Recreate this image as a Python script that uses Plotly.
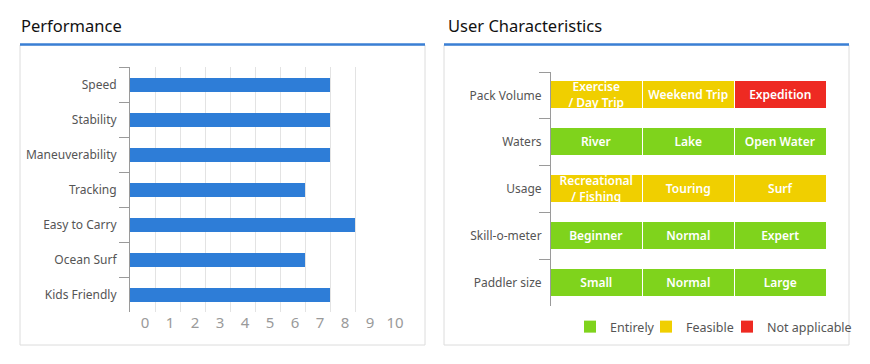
import plotly.graph_objects as go

W, H = 870, 364

# ---------------- data ----------------
perf_categories = ["Speed", "Stability", "Maneuverability", "Tracking",
                   "Easy to Carry", "Ocean Surf", "Kids Friendly"]
perf_values = [8, 8, 8, 7, 9, 7, 8]
perf_ticks = [0, 1, 2, 3, 4, 5, 6, 7, 8, 9, 10]

user_rows = ["Pack Volume", "Waters", "Usage", "Skill-o-meter", "Paddler size"]
user_col1 = ["Exercise<br>/ Day Trip", "River", "Recreational<br>/ Fishing", "Beginner", "Small"]
user_col2 = ["Weekend Trip", "Lake", "Touring", "Normal", "Normal"]
user_col3 = ["Expedition", "Open Water", "Surf", "Expert", "Large"]
status_col1 = ["Feasible", "Entirely", "Feasible", "Entirely", "Entirely"]
status_col2 = ["Feasible", "Entirely", "Feasible", "Entirely", "Entirely"]
status_col3 = ["Not applicable", "Entirely", "Feasible", "Entirely", "Entirely"]
legend_names = ["Entirely", "Feasible", "Not applicable"]
status_colors = {"Entirely": "#7fd31c", "Feasible": "#f0cf00", "Not applicable": "#ee2a22"}

FONT = "Noto Sans"
BLUE = "#2e7dd7"

def px_x(x):
    return x / W

def px_y(y):
    return 1 - y / H

fig = go.Figure()

# ---------------- left: performance bars ----------------
fig.add_trace(go.Bar(
    x=perf_values, y=perf_categories, orientation="h",
    marker=dict(color=BLUE, line=dict(width=0)), width=0.4,
    xaxis="x", yaxis="y", showlegend=False, hoverinfo="x+y",
))

# ---------------- right: user characteristics grid ----------------
for labels, status in [(user_col1, status_col1), (user_col2, status_col2), (user_col3, status_col3)]:
    fig.add_trace(go.Bar(
        x=[1] * len(user_rows), y=user_rows, orientation="h",
        marker=dict(color=[status_colors[s] for s in status], line=dict(color="white", width=1.5)),
        width=0.6, text=labels, textposition="inside", insidetextanchor="middle",
        textangle=0, constraintext="none",
        insidetextfont=dict(color="white", size=12, family=FONT, weight=600),
        xaxis="x2", yaxis="y2", showlegend=False, hoverinfo="text",
    ))

legend_ids = ["legend", "legend2", "legend3"]
for name, lid in zip(legend_names, legend_ids):
    fig.add_trace(go.Scatter(
        x=[None], y=[None], mode="markers", name=name, legend=lid,
        marker=dict(symbol="square", size=12, color=status_colors[name]),
        xaxis="x2", yaxis="y2", showlegend=True,
    ))

# ---------------- layout ----------------
shapes = []
for x0, x1 in [(20, 425), (444, 849)]:
    shapes.append(dict(type="rect", xref="paper", yref="paper",
                       x0=px_x(x0), x1=px_x(x1), y0=px_y(345), y1=px_y(45),
                       line=dict(color="#dcdcdc", width=1), fillcolor="rgba(0,0,0,0)", layer="below"))
    shapes.append(dict(type="line", xref="paper", yref="paper",
                       x0=px_x(x0), x1=px_x(x1), y0=px_y(44.5), y1=px_y(44.5),
                       line=dict(color="#3a7fd5", width=2.5)))

annotations = [
    dict(text="Performance", x=px_x(19), y=px_y(26), xref="paper", yref="paper",
         xanchor="left", yanchor="middle", showarrow=False,
         font=dict(size=16.5, color="#111111", family=FONT)),
    dict(text="User Characteristics", x=px_x(446), y=px_y(26), xref="paper", yref="paper",
         xanchor="left", yanchor="middle", showarrow=False,
         font=dict(size=16.5, color="#111111", family=FONT)),
]

def legend_box(left_px):
    return dict(orientation="h", x=px_x(left_px), y=px_y(327), xanchor="left", yanchor="middle",
                font=dict(size=12.5, color="#555555", family=FONT),
                bgcolor="rgba(0,0,0,0)", borderwidth=0, itemclick=False, itemdoubleclick=False)

fig.update_layout(
    width=W, height=H, margin=dict(l=0, r=0, t=0, b=0, autoexpand=False),
    paper_bgcolor="white", plot_bgcolor="white",
    barmode="stack", bargap=0,
    font=dict(family=FONT, color="#555555", size=12),
    shapes=shapes, annotations=annotations,
    xaxis=dict(domain=[px_x(130), px_x(380)], range=[0, 10], anchor="y",
               tickvals=perf_ticks, ticktext=[str(t) for t in perf_ticks],
               showgrid=True, gridcolor="#e3e3e3", gridwidth=1, zeroline=False,
               showline=False, ticks="", ticklabelshift=15,
               tickfont=dict(size=15, color="#9a9a9a", family=FONT), fixedrange=True),
    yaxis=dict(domain=[px_y(312), px_y(67)], anchor="x", type="category",
               categoryorder="array", categoryarray=perf_categories, autorange="reversed",
               showline=True, linecolor="#9a9a9a", linewidth=1,
               ticks="outside", tickson="boundaries", ticklen=10, tickcolor="#9a9a9a",
               ticklabelstandoff=10,
               showgrid=False, tickfont=dict(size=12, color="#555555", family=FONT), fixedrange=True),
    xaxis2=dict(domain=[px_x(551), px_x(827)], range=[0, 3], anchor="y2",
                showgrid=False, zeroline=False, showline=False, showticklabels=False,
                ticks="", fixedrange=True),
    yaxis2=dict(domain=[px_y(306), px_y(72)], anchor="x2", type="category",
                categoryorder="array", categoryarray=user_rows, autorange="reversed",
                showline=True, linecolor="#9a9a9a", linewidth=1,
                ticks="outside", tickson="boundaries", ticklen=11, tickcolor="#9a9a9a",
                ticklabelstandoff=6,
                showgrid=False, tickfont=dict(size=12, color="#555555", family=FONT), fixedrange=True),
    legend=legend_box(570),
    legend2=legend_box(646),
    legend3=legend_box(727),
    uniformtext=dict(mode=False),
)

fig.write_html(
    "out.html",
    config={"displayModeBar": False, "responsive": False},
    post_script="document.body.style.margin='0';document.body.style.overflow='hidden';",
)
